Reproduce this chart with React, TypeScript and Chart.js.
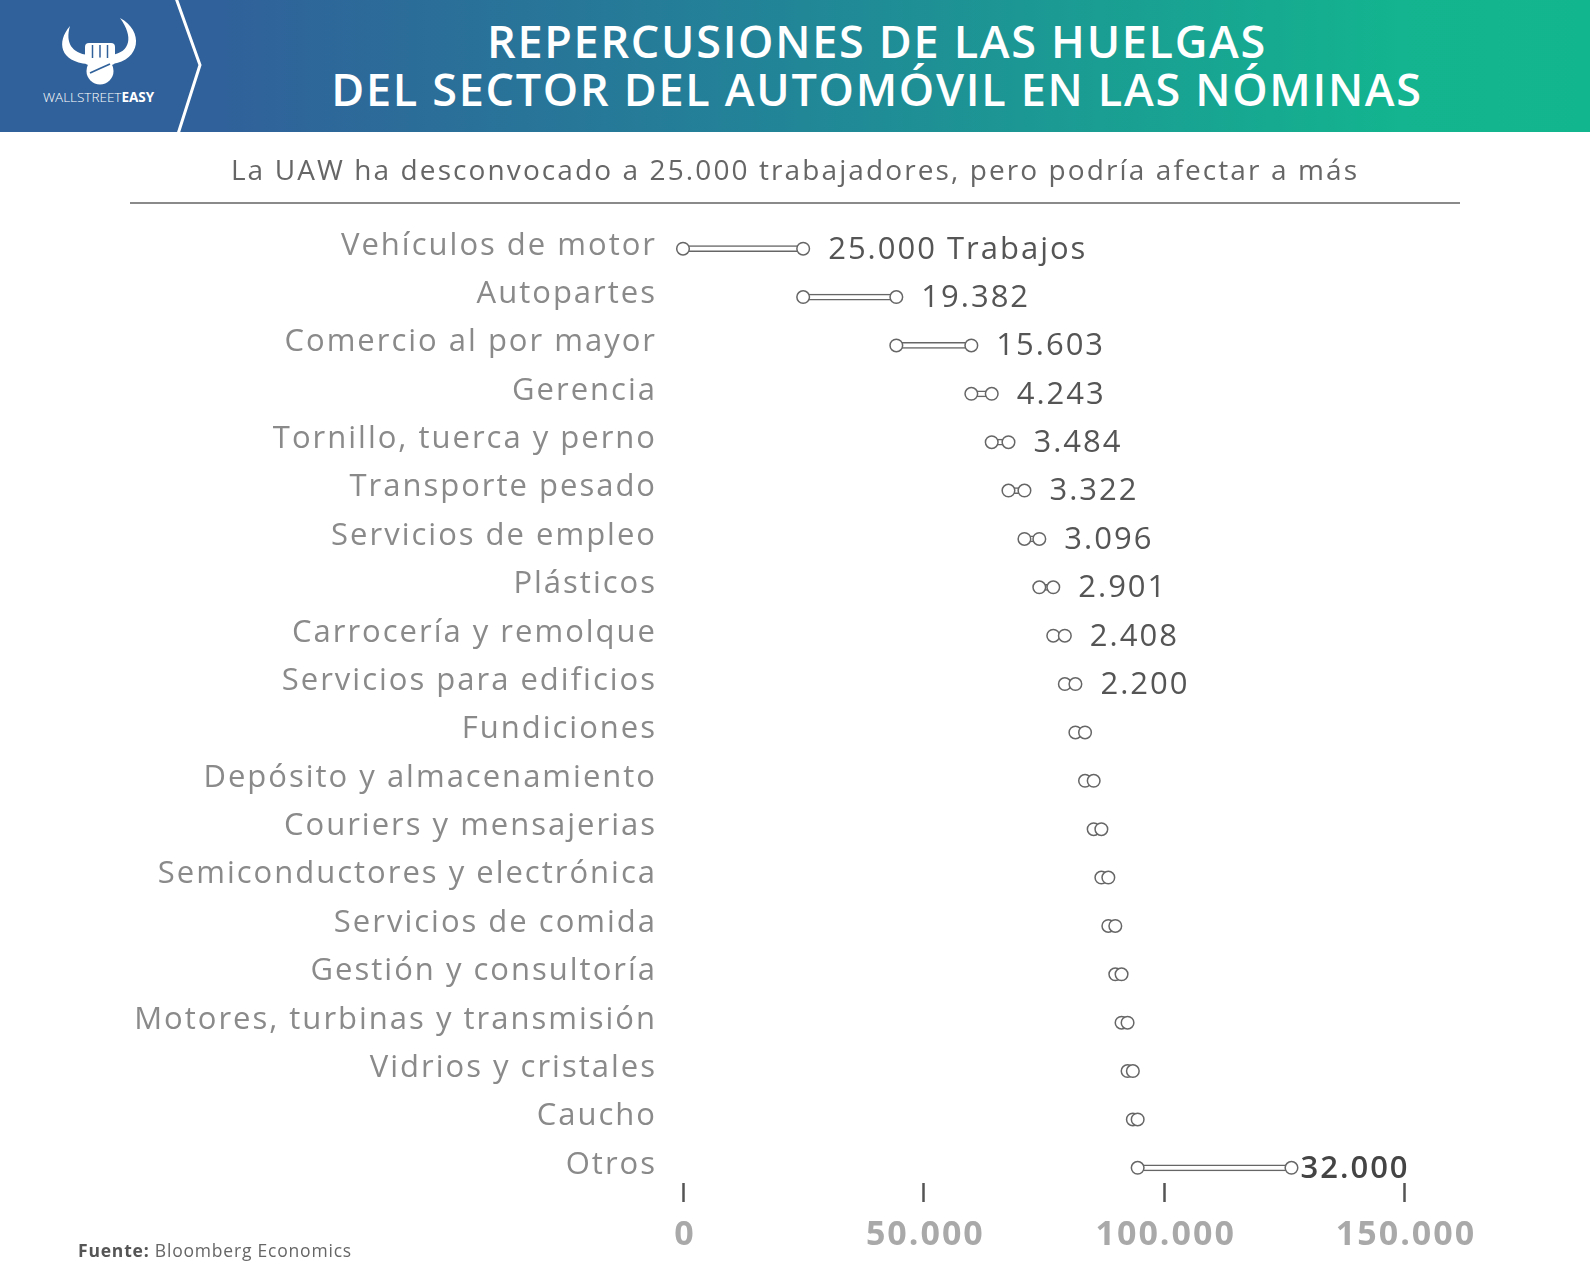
import React, { useEffect, useRef } from "react";
import { Chart, registerables } from "chart.js";

Chart.register(...registerables);

const categories = [
  "Vehículos de motor",
  "Autopartes",
  "Comercio al por mayor",
  "Gerencia",
  "Tornillo, tuerca y perno",
  "Transporte pesado",
  "Servicios de empleo",
  "Plásticos",
  "Carrocería y remolque",
  "Servicios para edificios",
  "Fundiciones",
  "Depósito y almacenamiento",
  "Couriers y mensajerias",
  "Semiconductores y electrónica",
  "Servicios de comida",
  "Gestión y consultoría",
  "Motores, turbinas y transmisión",
  "Vidrios y cristales",
  "Caucho",
  "Otros",
];

const values = [
  25000, 19382, 15603, 4243, 3484, 3322, 3096, 2901, 2408, 2200,
  2000, 1800, 1600, 1450, 1450, 1300, 1250, 1100, 1000, 32000,
];

const valueLabels = [
  "25.000 Trabajos", "19.382", "15.603", "4.243", "3.484", "3.322", "3.096",
  "2.901", "2.408", "2.200", null, null, null, null, null, null, null, null,
  null, "32.000",
];

const xTicks = [0, 50000, 100000, 150000];

const FONT = "'Open Sans', sans-serif";
const W = 1590;
const H = 1286;

function fmt(n: number): string {
  return String(Math.round(n)).replace(/\B(?=(\d{3})+(?!\d))/g, ".");
}

const starts: number[] = [];
const ends: number[] = [];
{
  let acc = 0;
  values.forEach((v) => {
    starts.push(acc);
    acc += v;
    ends.push(acc);
  });
}

const overlayPlugin = {
  id: "overlay",
  beforeDraw(chart: any) {
    chart.ctx.letterSpacing = "2px";
  },
  afterDatasetsDraw(chart: any) {
    const { ctx, chartArea } = chart;
    const xs = chart.scales.x;
    const meta = chart.getDatasetMeta(2);
    ctx.save();
    ctx.letterSpacing = "2px";
    ctx.textBaseline = "middle";
    ctx.textAlign = "left";
    meta.data.forEach((pt: any, i: number) => {
      const lab = valueLabels[i];
      if (!lab) return;
      const last = i === valueLabels.length - 1;
      ctx.font = `${last ? 600 : 400} 31px ${FONT}`;
      ctx.fillStyle = last ? "#444444" : "#555555";
      ctx.fillText(lab, pt.x + (last ? 9 : 25), pt.y + 1);
    });
    // axis tick marks
    ctx.strokeStyle = "#555555";
    ctx.lineWidth = 2.5;
    xTicks.forEach((t) => {
      const px = Math.round(xs.getPixelForValue(t)) + 0.5;
      ctx.beginPath();
      ctx.moveTo(px, chartArea.bottom - 9);
      ctx.lineTo(px, chartArea.bottom + 10);
      ctx.stroke();
    });
    ctx.restore();
  },
};

function Logo() {
  return (
    <svg
      width={210}
      height={132}
      style={{ position: "absolute", left: 0, top: 0 }}
    >
      <path d="M70,26 C56,42 60,62 88,64 L88,55 C72,53 65,43 70,26 Z" fill="#fff" />
      <path d="M120,18 C144,31 141,60 112,64 L112,55 C130,52 134,37 120,18 Z" fill="#fff" />
      <rect x={85} y={43} width={30} height={22} rx={4} fill="#fff" />
      <line x1={92.5} y1={45} x2={92.5} y2={58} stroke="#30619a" strokeWidth={1.5} />
      <line x1={100} y1={45} x2={100} y2={58} stroke="#30619a" strokeWidth={1.5} />
      <line x1={107.5} y1={45} x2={107.5} y2={58} stroke="#30619a" strokeWidth={1.5} />
      <circle cx={100} cy={71} r={13.5} fill="#fff" />
      <path d="M90,73 L101,68 L110,64" stroke="#30619a" strokeWidth={1.8} fill="none" />
      <text
        x={43}
        y={102}
        fill="#fff"
        style={{ fontFamily: FONT, fontSize: 13.5, letterSpacing: "0px" }}
      >
        <tspan style={{ fontWeight: 300 }}>WALLSTREET</tspan>
        <tspan style={{ fontWeight: 700 }}>EASY</tspan>
      </text>
      <polyline
        points="176,-2 200,65 178,134"
        stroke="#fff"
        strokeWidth={3}
        fill="none"
      />
    </svg>
  );
}

export default function App() {
  const canvasRef = useRef<HTMLCanvasElement | null>(null);

  useEffect(() => {
    const canvas = canvasRef.current;
    if (!canvas) return;
    const lineColor = "#666666";
    const chart = new Chart(canvas, {
      type: "bar",
      data: {
        labels: categories,
        datasets: [
          {
            type: "bar",
            data: categories.map((_, i) => [starts[i], ends[i]]) as any,
            backgroundColor: "#ffffff",
            borderColor: lineColor,
            borderWidth: 1.5,
            borderSkipped: false,
            barThickness: 6,
            order: 3,
          } as any,
          {
            type: "scatter",
            data: categories.map((c, i) => ({ x: starts[i], y: c })) as any,
            pointRadius: 6.3,
            pointBackgroundColor: "#ffffff",
            pointBorderColor: lineColor,
            pointBorderWidth: 1.5,
            clip: false,
            order: 2,
          } as any,
          {
            type: "scatter",
            data: categories.map((c, i) => ({ x: ends[i], y: c })) as any,
            pointRadius: 6.3,
            pointBackgroundColor: "#ffffff",
            pointBorderColor: lineColor,
            pointBorderWidth: 1.5,
            clip: false,
            order: 1,
          } as any,
        ],
      },
      options: {
        indexAxis: "y",
        responsive: false,
        animation: false,
        events: [],
        layout: { padding: { left: 0, right: 186, top: 224.5, bottom: 0 } },
        plugins: {
          legend: { display: false },
          tooltip: { enabled: false },
        },
        scales: {
          x: {
            type: "linear",
            position: "bottom",
            min: 0,
            max: 150000,
            afterBuildTicks: (scale: any) => {
              scale.ticks = xTicks.map((v) => ({ value: v }));
            },
            afterFit: (scale: any) => {
              scale.paddingLeft = 0;
              scale.paddingRight = 0;
              scale.height = 94;
            },
            ticks: {
              padding: 23,
              color: "#a9a9a9",
              font: { family: FONT, size: 34, weight: "bold" },
              maxRotation: 0,
              autoSkip: false,
              labelOffset: 2,
              callback: (v: any) => fmt(Number(v)),
            },
            grid: { display: false, drawTicks: false },
            border: { display: false },
          },
          y: {
            type: "category",
            position: "left",
            offset: true,
            afterFit: (scale: any) => {
              scale.width = 683;
            },
            ticks: {
              padding: 26,
              labelOffset: -3,
              color: "#8a8a8a",
              font: { family: FONT, size: 31 },
              autoSkip: false,
            },
            grid: { display: false, drawTicks: false },
            border: { display: false },
          },
        },
      } as any,
      plugins: [overlayPlugin],
    });
    return () => chart.destroy();
  }, []);

  return (
    <div
      style={{
        position: "absolute",
        left: 0,
        top: 0,
        width: W,
        height: H,
        background: "#ffffff",
        overflow: "hidden",
        fontFamily: FONT,
      }}
    >
      <canvas
        ref={canvasRef}
        width={W}
        height={H}
        style={{ position: "absolute", left: 0, top: 0, width: W, height: H }}
      />
      <div
        style={{
          position: "absolute",
          left: 0,
          top: 0,
          width: W,
          height: 132,
          background:
            "linear-gradient(90deg, #30619a 0%, #30619a 14%, #238098 45%, #13b48f 88%, #12b68e 100%)",
        }}
      >
        <Logo />
        <div
          style={{
            position: "absolute",
            left: 277,
            width: 1200,
            top: 17,
            textAlign: "center",
            color: "#ffffff",
            fontWeight: 600,
            fontSize: 45,
            lineHeight: "48px",
            letterSpacing: "1.7px",
            whiteSpace: "nowrap",
          }}
        >
          <div>REPERCUSIONES DE LAS HUELGAS</div>
          <div>DEL SECTOR DEL AUTOMÓVIL EN LAS NÓMINAS</div>
        </div>
      </div>
      <div
        style={{
          position: "absolute",
          left: 95,
          width: 1400,
          top: 151,
          height: 36,
          lineHeight: "36px",
          textAlign: "center",
          color: "#666666",
          fontSize: 28,
          letterSpacing: "2.1px",
          whiteSpace: "nowrap",
        }}
      >
        La UAW ha desconvocado a 25.000 trabajadores, pero podría afectar a más
      </div>
      <div
        style={{
          position: "absolute",
          left: 130,
          top: 202,
          width: 1330,
          height: 1.5,
          background: "#8a8a8a",
        }}
      />
      <div
        style={{
          position: "absolute",
          left: 78,
          top: 1238,
          height: 24,
          lineHeight: "24px",
          fontSize: 17.5,
          color: "#666666",
          letterSpacing: "0.8px",
          whiteSpace: "nowrap",
        }}
      >
        <span style={{ fontWeight: 700, color: "#555555" }}>Fuente:</span>{" "}
        Bloomberg Economics
      </div>
    </div>
  );
}
